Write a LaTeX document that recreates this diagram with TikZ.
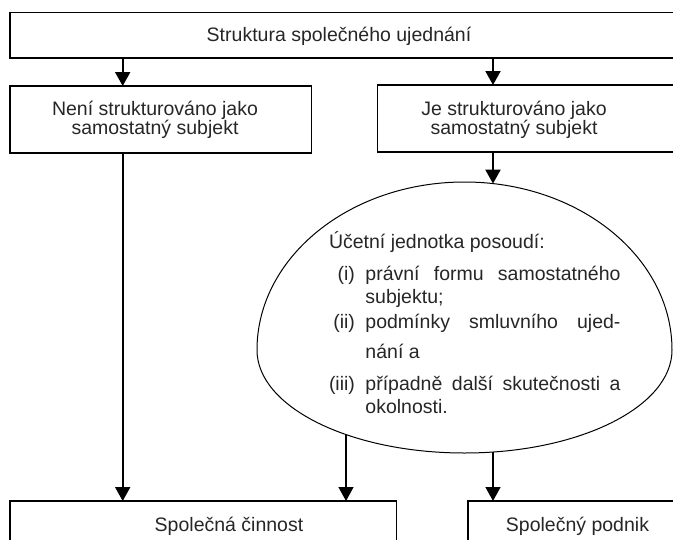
\documentclass[tikz,border=0pt]{standalone}
\usepackage{fontspec}
\setmainfont{Liberation Sans}
\usepackage{tikz}
\usetikzlibrary{arrows.meta}
\newcommand{\chartfont}{\fontsize{19.5}{19}\selectfont}
\newcommand{\eggfont}{\fontsize{19.5}{23}\selectfont}
\tikzstyle{box}=[draw, line width=1.2pt, inner sep=0, outer sep=0, anchor=north west]
\tikzstyle{boxtext}=[inner sep=0, outer sep=0, align=center]
\tikzstyle{flow}=[line width=2pt, -{Triangle[length=14pt, width=15pt]}]
\tikzstyle{thinflow}=[flow, line width=1.4pt]
\tikzstyle{chart}=[x=1pt, y=-1pt, font=\chartfont,
                   % Image coordinates: y grows downwards.
                   every node/.style={text=black!85}]

\begin{document}
\begin{tikzpicture}[chart]
        \useasboundingbox (0,0) rectangle (673,539);
        \clip (0,0) rectangle (673,539);
        \node[box, minimum width=690pt, minimum height=45.3pt] (strukturabox) at (10,12.7) {};
        \node[box, minimum width=301.7pt, minimum height=67pt] (nenibox) at (10,86) {};
        \node[box, minimum width=320pt, minimum height=67pt] (jebox) at (377.7,85) {};
        \node[box, minimum width=386.7pt, minimum height=60pt] (cinnostbox) at (10,501) {};
        \node[box, minimum width=240pt, minimum height=60pt] (podnikbox) at (468,501) {};
        \node[boxtext, anchor=base] (strukturatext) at (339,41.7) {Struktura společného ujednání};
        \node[boxtext] (nenitext) at (155,120) {Není strukturováno jako\\samostatný subjekt};
        \node[boxtext] (jetext) at (514,120) {Je strukturováno jako\\samostatný subjekt};
        \node[boxtext, anchor=base] (cinnosttext) at (229,531.7) {Společná činnost};
        \node[boxtext, anchor=base] (podniktext) at (577.5,531.7) {Společný podnik};
        % the egg
        \draw[line width=1pt] (257,350) arc[start angle=180, end angle=0, x radius=207.5pt, y radius=168pt]
            arc[start angle=0, end angle=-180, x radius=207.5pt, y radius=103pt] -- cycle;
        \node[inner sep=0, outer sep=0, anchor=base west, font=\eggfont] (eggtext) at (329,248) {%
            \begin{tabular}[t]{@{}r@{\hspace{10.5pt}}l@{}}
            \multicolumn{2}{@{}l@{}}{Účetní jednotka posoudí:}\\[9pt]
            (i) & \makebox[255pt][s]{právní formu samostatného}\\
                & subjektu;\\[2pt]
            (ii) & \makebox[255pt][s]{podmínky smluvního ujed-}\\[7pt]
                & nání a\\[9pt]
            (iii) & \makebox[255pt][s]{případně další skutečnosti a}\\
                & okolnosti.
            \end{tabular}};
        \coordinate (colA) at (122.7,0);
        \coordinate (colB) at (493,0);
        \coordinate (colC) at (346,0);
        \coordinate (eggtop) at (493,183.6);
        \coordinate (eggexit) at (346,434.6);
        \coordinate (eggbottom) at (493,452);
        \draw[flow] (strukturabox.south -| colA) -- (nenibox.north -| colA);
        \draw[flow] (strukturabox.south -| colB) -- (jebox.north -| colB);
        \draw[flow] (jebox.south -| colB) -- (eggtop);
        \draw[flow] (nenibox.south -| colA) -- (cinnostbox.north -| colA);
        \draw[thinflow] (eggexit) -- (cinnostbox.north -| colC);
        \draw[thinflow] (eggbottom) -- (podnikbox.north -| colB);
    \end{tikzpicture}
\end{document}
